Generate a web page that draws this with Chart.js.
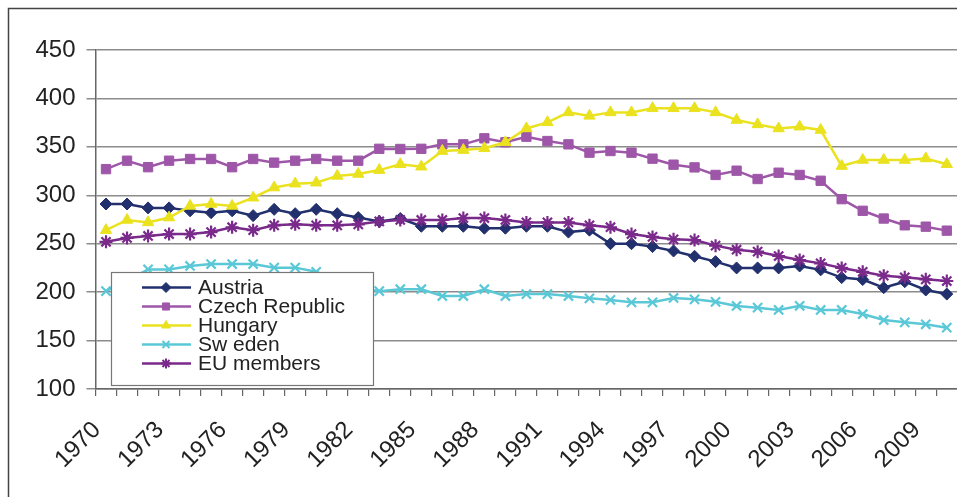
<!DOCTYPE html>
<html><head><meta charset="utf-8">
<script src="https://cdn.jsdelivr.net/npm/chart.js@4.4.1/dist/chart.umd.min.js"></script>
<style>
html,body{margin:0;padding:0;background:#fff;overflow:hidden;width:957px;height:497px;}
#wrap{position:absolute;left:0;top:0;width:966px;height:497px;}
</style></head>
<body><div id="wrap"><canvas id="c" width="966" height="497"></canvas></div>
<script>
const years = ["1970","1971","1972","1973","1974","1975","1976","1977","1978","1979",
  "1980","1981","1982","1983","1984","1985","1986","1987","1988","1989",
  "1990","1991","1992","1993","1994","1995","1996","1997","1998","1999",
  "2000","2001","2002","2003","2004","2005","2006","2007","2008","2009","2010"];
const austria = [291,291,287,287,284,282,284,279,285.5,281,
  285.5,281,277,273,276,268,268,268,266,266,
  268,268,262,264,250,250,247,242.5,237,231.5,
  225,225,225,227,223,215,213,204.6,210.8,202.2,198];
const czech = [327,335.7,329,335.7,337.5,337.5,329,337.5,333.7,335.7,
  337.5,335.7,335.7,348,347.8,348,352.6,352.6,358.8,354.7,
  360.5,356,352.6,344,345.7,344,337.8,331.6,328.8,321,
  325.4,316.8,323.3,321,315,296,284,276,269,267.6,263.5];
const hungary = [264,274.5,272,277,289,291,289,297.5,308,312,
  313,320,322,326,332,329.5,345.7,346.7,348.5,354.7,
  369,375.3,385.6,382,385.6,385.6,389.8,389.8,389.8,385.6,
  377.7,373.2,369,370.8,367.4,330.2,336.4,336.4,336.4,338,332];
const sweden = [201,212,223.5,223.5,227,229,229,229,225.3,225.3,
  221,212,205,201,203,203,196,196,203,196,
  198,198,196,193.6,192,189.5,189.5,194,192.6,190,
  185.7,184,181.6,185.9,181.6,181.6,177.4,171.2,168.8,166.8,163.3];
const euMembers = [252,256,258,260,260,262,267,264,269,270,
  269,269,270,273,274.5,274.5,274.5,276.5,276.5,274.5,
  272,272,272,269,267,260,257,254.5,253.8,248,
  243.8,241.8,237.3,233.2,229.7,225,221,217,215.3,213.2,211.5];
const seriesNames = ["Austria","Czech Republic","Hungary","Sw eden","EU members"];
const yMin = 100, yMax = 450, yStep = 50;

const FONT = "'Liberation Sans', Arial, sans-serif";
const styles = [
  {color:'#22306E', pointStyle:'rectRot', r:6, lw:2.5},
  {color:'#9E57A8', pointStyle:'rect', r:6.6, lw:2.5},
  {color:'#EAE21E', pointStyle:'triangle', r:6.5, lw:2.5},
  {color:'#5AC8D6', pointStyle:'crossRot', r:6.5, lw:2.5},
  {color:'#7A2A8A', pointStyle:'star', r:6.5, lw:2.5}
];
const seriesData = [austria, czech, hungary, sweden, euMembers];

const datasets = seriesData.map((d,k)=>({
  label: seriesNames[k],
  data: d,
  borderColor: styles[k].color,
  backgroundColor: styles[k].color,
  pointBackgroundColor: styles[k].color,
  pointBorderColor: styles[k].color,
  pointStyle: styles[k].pointStyle,
  pointRadius: styles[k].r,
  pointBorderWidth: (styles[k].pointStyle==='crossRot'||styles[k].pointStyle==='star') ? 2.2 : 1,
  borderWidth: styles[k].lw,
  tension: 0,
  fill: false
})).reverse();

const framePlugin = {
  id: 'frame',
  beforeDraw(chart){
    const ctx = chart.ctx;
    ctx.save();
    ctx.fillStyle = '#fff';
    ctx.fillRect(0,0,chart.width,chart.height);
    ctx.strokeStyle = '#444';
    ctx.lineWidth = 1.5;
    ctx.strokeRect(8.5, 8.5, 3000, 3000);
    ctx.restore();
  }
};

const legendPlugin = {
  id: 'customLegend',
  afterDraw(chart){
    const ctx = chart.ctx;
    ctx.save();
    const bx = 111.5, by = 272.5, bw = 262, bh = 113;
    ctx.fillStyle = '#fff';
    ctx.fillRect(bx, by, bw, bh);
    ctx.strokeStyle = '#777';
    ctx.lineWidth = 1.2;
    ctx.strokeRect(bx, by, bw, bh);
    const rowY = [287.5, 306.5, 325.5, 344.5, 363.5];
    ctx.font = '21px ' + FONT;
    ctx.textBaseline = 'middle';
    ctx.textAlign = 'left';
    for (let k=0;k<5;k++){
      const y = rowY[k];
      ctx.strokeStyle = styles[k].color;
      ctx.lineWidth = 2.5;
      ctx.beginPath(); ctx.moveTo(142, y); ctx.lineTo(191, y); ctx.stroke();
      ctx.fillStyle = styles[k].color;
      ctx.lineWidth = (styles[k].pointStyle==='crossRot'||styles[k].pointStyle==='star') ? 2 : 1;
      Chart.helpers.drawPoint(ctx, {pointStyle: styles[k].pointStyle, radius: 5, borderWidth: ctx.lineWidth}, 166, y);
      ctx.fillStyle = '#222';
      ctx.fillText(seriesNames[k], 198, y + 1);
    }
    ctx.restore();
  }
};

new Chart(document.getElementById('c'), {
  type: 'line',
  data: { labels: years, datasets: datasets },
  options: {
    responsive: false,
    animation: false,
    devicePixelRatio: 1,
    layout: { padding: { left: 0, top: 50, right: 5.4, bottom: 0 } },
    plugins: { legend: { display: false }, tooltip: { enabled: false } },
    scales: {
      x: {
        type: 'category',
        offset: true,
        grid: { offset: true, drawOnChartArea: false, drawTicks: true, tickLength: 7, color: '#666', lineWidth: 1.2 },
        border: { display: true, color: '#666', width: 1.5 },
        ticks: {
          autoSkip: false, maxRotation: 45, minRotation: 45,
          color: '#222', font: { size: 24, family: FONT }, padding: 20, labelOffset: -9,
          callback: function(v, i){ return (i % 3 === 0) ? years[i] : ''; }
        },
        afterFit(scale){ scale.height = 108; scale.paddingLeft = 0; scale.paddingRight = 0; }
      },
      y: {
        min: yMin, max: yMax,
        ticks: { stepSize: yStep, color: '#222', font: { size: 24, family: FONT }, padding: 11 },
        grid: { color: '#8c8c8c', lineWidth: 1.5, tickLength: 9, drawTicks: true },
        border: { display: true, color: '#666', width: 1.5 },
        afterFit(scale){ scale.width = 95.5; }
      }
    }
  },
  plugins: [framePlugin, legendPlugin]
});
</script>
</body></html>
